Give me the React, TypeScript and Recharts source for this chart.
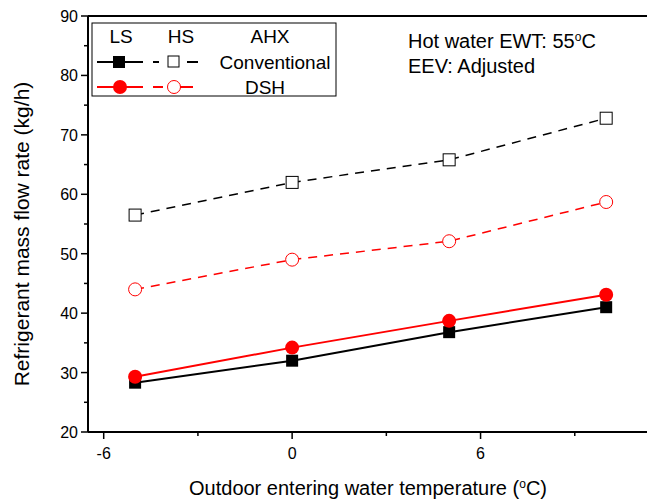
import { LineChart, Line, XAxis, YAxis, ReferenceLine } from 'recharts';

const temps = [-5, 0, 5, 10];
const convLS = [28.3, 32.0, 36.8, 41.0];
const convHS = [56.5, 62.0, 65.8, 72.8];
const dshLS = [29.3, 34.2, 38.7, 43.1];
const dshHS = [44.0, 49.0, 52.1, 58.7];

const xTicks = [-6, -3, 0, 3, 6, 9];
const xLabels = [-6, 0, 6];
const yTicks = [20, 25, 30, 35, 40, 45, 50, 55, 60, 65, 70, 75, 80, 85, 90];
const yLabels = [20, 30, 40, 50, 60, 70, 80, 90];

const data = temps.map((t, i) => ({
  t,
  convLS: convLS[i],
  convHS: convHS[i],
  dshLS: dshLS[i],
  dshHS: dshHS[i],
}));

const FONT = '"Liberation Sans", Arial, sans-serif';

const XTick = ({ x, y, payload }: any) => {
  const major = xLabels.includes(payload.value);
  return (
    <g>
      <line x1={x} y1={y - 8} x2={x} y2={y - 8 + (major ? 7 : 4)} stroke="#000" strokeWidth={1.5} />
      {major && (
        <text x={x} y={y + 19} textAnchor="middle" fontSize={16} fontFamily={FONT} fill="#000">
          {payload.value}
        </text>
      )}
    </g>
  );
};

const YTick = ({ x, y, payload }: any) => {
  const major = yLabels.includes(payload.value);
  return (
    <g>
      <line x1={x + 8} y1={y} x2={x + 8 - (major ? 7 : 4)} y2={y} stroke="#000" strokeWidth={1.5} />
      {major && (
        <text x={x - 2} y={y + 6} textAnchor="end" fontSize={16} fontFamily={FONT} fill="#000">
          {payload.value}
        </text>
      )}
    </g>
  );
};

const FilledSquare = ({ cx, cy }: any) => (
  <rect x={cx - 6} y={cy - 6} width={12} height={12} fill="#000" />
);
const OpenSquare = ({ cx, cy }: any) => (
  <rect x={cx - 6} y={cy - 6} width={12} height={12} fill="#fff" stroke="#000" strokeWidth={1} />
);
const FilledCircle = ({ cx, cy }: any) => <circle cx={cx} cy={cy} r={7} fill="#ff0000" />;
const OpenCircle = ({ cx, cy }: any) => (
  <circle cx={cx} cy={cy} r={6.5} fill="#fff" stroke="#ff0000" strokeWidth={1} />
);

// legend box, positioned at (92, 23) in the page
const LegendBox = () => (
  <svg width={246} height={75} style={{ position: 'absolute', left: 91, top: 22, fontFamily: FONT }}>
    <rect x={1} y={1} width={244} height={73} fill="#fff" stroke="#000" strokeWidth={1} />
    <text x={30} y={21} textAnchor="middle" fontSize={19}>LS</text>
    <text x={90} y={21} textAnchor="middle" fontSize={19}>HS</text>
    <text x={179} y={21} textAnchor="middle" fontSize={19}>AHX</text>
    <line x1={6} y1={40} x2={52} y2={40} stroke="#000" strokeWidth={2} />
    <rect x={22} y={34} width={12} height={12} fill="#000" />
    <line x1={62} y1={40} x2={68} y2={40} stroke="#000" strokeWidth={2} />
    <rect x={77} y={34} width={11} height={11} fill="#fff" stroke="#000" />
    <line x1={96} y1={40} x2={107} y2={40} stroke="#000" strokeWidth={2} />
    <text x={184} y={47} textAnchor="middle" fontSize={19}>Conventional</text>
    <line x1={6} y1={65} x2={52} y2={65} stroke="#ff0000" strokeWidth={2} />
    <circle cx={29} cy={65} r={7} fill="#ff0000" />
    <line x1={62} y1={65} x2={72} y2={65} stroke="#ff0000" strokeWidth={2} />
    <circle cx={83} cy={65} r={6.5} fill="#fff" stroke="#ff0000" />
    <line x1={89} y1={65} x2={102} y2={65} stroke="#ff0000" strokeWidth={2} />
    <text x={174} y={72} textAnchor="middle" fontSize={19}>DSH</text>
  </svg>
);

export default function App() {
  return (
    <div style={{ position: 'absolute', left: 0, top: 0, width: 647, height: 503, background: '#fff', overflow: 'hidden' }}>
      <LineChart width={647} height={503} data={data} margin={{ top: 16, right: 0, left: 28, bottom: 31 }}>
        <XAxis
          dataKey="t"
          type="number"
          domain={[-6.5, 11.3]}
          ticks={xTicks}
          tick={<XTick />}
          tickLine={false}
          axisLine={{ stroke: '#000', strokeWidth: 2 }}
          height={40}
          allowDataOverflow
        />
        <YAxis
          type="number"
          domain={[20, 90]}
          ticks={yTicks}
          tick={<YTick />}
          tickLine={false}
          axisLine={{ stroke: '#000', strokeWidth: 2 }}
          width={60}
          interval={0}
        />
        <ReferenceLine y={90} stroke="#000" strokeWidth={2} />
        <Line dataKey="convHS" stroke="#000" strokeWidth={1.5} strokeDasharray="9 7" dot={<OpenSquare />} isAnimationActive={false} />
        <Line dataKey="dshHS" stroke="#ff0000" strokeWidth={1.5} strokeDasharray="9 7" dot={<OpenCircle />} isAnimationActive={false} />
        <Line dataKey="convLS" stroke="#000" strokeWidth={2} dot={<FilledSquare />} isAnimationActive={false} />
        <Line dataKey="dshLS" stroke="#ff0000" strokeWidth={2} dot={<FilledCircle />} isAnimationActive={false} />
      </LineChart>
      <LegendBox />
      <div style={{ position: 'absolute', left: 408, top: 25, fontFamily: FONT, fontSize: 20, lineHeight: '25px', color: '#000' }}>
        <div>Hot water EWT: 55<sup style={{ fontSize: 12, verticalAlign: '7px' }}>o</sup>C</div>
        <div>EEV: Adjusted</div>
      </div>
      <div style={{ position: 'absolute', left: 0, top: 472, width: 736, textAlign: 'center', fontFamily: FONT, fontSize: 20, lineHeight: '24px', color: '#000' }}>
        Outdoor entering water temperature (<sup style={{ fontSize: 12, verticalAlign: '7px' }}>o</sup>C)
      </div>
      <div style={{ position: 'absolute', left: 22, top: 234, width: 0, height: 0 }}>
        <div style={{ position: 'absolute', transform: 'translate(-50%, -50%) rotate(-90deg)', whiteSpace: 'nowrap', fontFamily: FONT, fontSize: 21, color: '#000' }}>
          Refrigerant mass flow rate (kg/h)
        </div>
      </div>
    </div>
  );
}
